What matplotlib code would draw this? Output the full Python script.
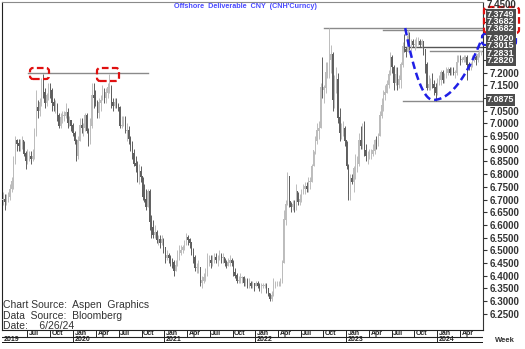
import pandas as pd
import matplotlib
matplotlib.use("Agg")
import matplotlib.pyplot as plt
import matplotlib.dates as mdates
from matplotlib.patches import FancyBboxPatch
from matplotlib.transforms import IdentityTransform

plt.rcParams['font.family'] = ['Liberation Sans', 'DejaVu Sans']

# weekly bars, one list per calendar block (Mondays, 7 days apart)
start_2019 = "2019-03-25"
close_2019 = [6.70,
              6.69, 6.70, 6.71, 6.74, 6.77,
              6.85, 6.93, 6.92, 6.91,
              6.92, 6.93, 6.88, 6.85,
              6.87, 6.87, 6.86, 6.87, 6.96,
              7.06, 7.05, 7.08, 7.15,
              7.12, 7.08, 7.11, 7.14, 7.13,
              7.08, 7.07, 7.07, 7.03,
              6.99, 7.02, 7.03, 7.03,
              7.04, 7.00, 7.01, 6.99, 6.96]
high_2019 = [6.73,
             6.72, 6.72, 6.73, 6.76, 6.79,
             6.87, 6.95, 6.94, 6.94,
             6.94, 6.95, 6.93, 6.89,
             6.90, 6.89, 6.89, 6.90, 6.98,
             7.13, 7.09, 7.10, 7.18,
             7.196, 7.14, 7.12, 7.16, 7.16,
             7.14, 7.10, 7.09, 7.08,
             7.04, 7.04, 7.05, 7.05,
             7.08, 7.06, 7.03, 7.01, 7.00]
low_2019 = [6.68,
            6.66, 6.68, 6.69, 6.70, 6.73,
            6.74, 6.84, 6.89, 6.89,
            6.89, 6.90, 6.87, 6.82,
            6.84, 6.85, 6.84, 6.85, 6.86,
            6.95, 7.02, 7.03, 7.07,
            7.10, 7.06, 7.07, 7.09, 7.10,
            7.05, 7.05, 7.04, 7.01,
            6.98, 6.98, 7.00, 7.01,
            7.02, 6.98, 6.99, 6.97, 6.95]

start_2020 = "2020-01-06"
close_2020 = [6.93, 6.87, 6.93, 6.99,
              6.98, 6.98, 7.03, 6.97,
              6.93, 6.99, 7.11, 7.10, 7.08,
              7.04, 7.08, 7.09, 7.11,
              7.10, 7.12, 7.14, 7.14,
              7.08, 7.07, 7.08, 7.07, 7.06,
              6.99, 6.99, 7.01, 6.97,
              6.97, 6.94, 6.91, 6.88, 6.84,
              6.83, 6.77, 6.81, 6.79,
              6.71, 6.70, 6.67, 6.73,
              6.61, 6.59, 6.56, 6.57, 6.54,
              6.54, 6.53, 6.54, 6.51]
high_2020 = [6.97, 6.94, 6.95, 7.02,
             7.02, 7.00, 7.04, 7.04,
             6.98, 7.02, 7.16, 7.16, 7.13,
             7.09, 7.10, 7.11, 7.15,
             7.14, 7.14, 7.16, 7.196,
             7.15, 7.10, 7.10, 7.10, 7.08,
             7.07, 7.03, 7.03, 7.03,
             7.00, 6.99, 6.95, 6.93, 6.90,
             6.87, 6.85, 6.84, 6.83,
             6.79, 6.76, 6.74, 6.74,
             6.74, 6.64, 6.62, 6.60, 6.58,
             6.56, 6.56, 6.56, 6.55]
low_2020 = [6.92, 6.85, 6.86, 6.93,
            6.96, 6.95, 6.97, 6.96,
            6.91, 6.92, 6.98, 7.06, 7.07,
            7.02, 7.02, 7.05, 7.09,
            7.08, 7.08, 7.10, 7.12,
            7.06, 7.05, 7.06, 7.06, 7.05,
            6.98, 6.98, 6.99, 6.96,
            6.93, 6.92, 6.89, 6.86, 6.83,
            6.81, 6.77, 6.76, 6.77,
            6.70, 6.69, 6.66, 6.67,
            6.58, 6.55, 6.55, 6.55, 6.53,
            6.52, 6.51, 6.52, 6.49]

start_2021 = "2021-01-04"
close_2021 = [6.47, 6.48, 6.47, 6.46,
              6.45, 6.42, 6.44, 6.48,
              6.49, 6.50, 6.51, 6.52, 6.55,
              6.54, 6.53, 6.49, 6.47,
              6.43, 6.43, 6.43, 6.37, 6.38,
              6.39, 6.40, 6.46, 6.46,
              6.45, 6.46, 6.47, 6.46,
              6.46, 6.48, 6.47, 6.47, 6.45,
              6.44, 6.45, 6.46, 6.45,
              6.41, 6.40, 6.38, 6.38,
              6.39, 6.39, 6.37, 6.38, 6.37,
              6.37, 6.36, 6.37, 6.36]
high_2021 = [6.49, 6.50, 6.49, 6.48,
             6.47, 6.46, 6.46, 6.50,
             6.52, 6.52, 6.52, 6.54, 6.57,
             6.56, 6.55, 6.53, 6.51,
             6.48, 6.45, 6.46, 6.43, 6.40,
             6.41, 6.43, 6.49, 6.48,
             6.48, 6.48, 6.49, 6.49,
             6.48, 6.50, 6.49, 6.49, 6.47,
             6.46, 6.47, 6.48, 6.47,
             6.46, 6.43, 6.41, 6.40,
             6.41, 6.40, 6.40, 6.39, 6.39,
             6.39, 6.38, 6.38, 6.37]
low_2021 = [6.45, 6.46, 6.45, 6.44,
            6.43, 6.40, 6.42, 6.44,
            6.46, 6.48, 6.49, 6.50, 6.52,
            6.52, 6.51, 6.48, 6.45,
            6.42, 6.41, 6.41, 6.36, 6.35,
            6.37, 6.38, 6.40, 6.44,
            6.43, 6.44, 6.45, 6.45,
            6.44, 6.46, 6.45, 6.45, 6.44,
            6.43, 6.44, 6.44, 6.44,
            6.40, 6.39, 6.37, 6.37,
            6.37, 6.37, 6.36, 6.36, 6.35,
            6.35, 6.35, 6.35, 6.34]

start_2022 = "2022-01-03"
close_2022 = [6.37, 6.36, 6.35, 6.36, 6.36,
              6.36, 6.35, 6.33, 6.31,
              6.32, 6.36, 6.37, 6.37,
              6.37, 6.38, 6.45, 6.62,
              6.68, 6.79, 6.69, 6.67, 6.68,
              6.66, 6.73, 6.69, 6.70,
              6.72, 6.74, 6.75, 6.74,
              6.77, 6.77, 6.83, 6.89, 6.93,
              6.97, 6.98, 7.14, 7.13,
              7.14, 7.20, 7.21, 7.25, 7.27,
              7.09, 7.13, 7.17, 7.02,
              6.96, 6.96, 6.98, 6.93]
high_2022 = [6.38, 6.38, 6.37, 6.37, 6.37,
             6.37, 6.37, 6.35, 6.33,
             6.34, 6.39, 6.38, 6.38,
             6.38, 6.39, 6.46, 6.66,
             6.70, 6.81, 6.79, 6.69, 6.70,
             6.70, 6.76, 6.72, 6.72,
             6.74, 6.76, 6.77, 6.77,
             6.79, 6.79, 6.84, 6.89, 6.95,
             7.00, 7.01, 7.16, 7.26,
             7.15, 7.24, 7.24, 7.3749, 7.31,
             7.28, 7.19, 7.22, 7.20,
             7.06, 7.00, 7.01, 6.99]
low_2022 = [6.36, 6.35, 6.34, 6.33, 6.35,
            6.35, 6.33, 6.32, 6.30,
            6.30, 6.32, 6.35, 6.36,
            6.36, 6.36, 6.37, 6.45,
            6.60, 6.69, 6.67, 6.65, 6.66,
            6.65, 6.66, 6.68, 6.68,
            6.69, 6.72, 6.72, 6.73,
            6.73, 6.74, 6.77, 6.83, 6.88,
            6.92, 6.94, 6.98, 7.10,
            7.08, 7.12, 7.18, 7.18, 7.20,
            7.05, 7.06, 7.12, 7.00,
            6.93, 6.94, 6.95, 6.91]

start_2023 = "2023-01-02"
close_2023 = [6.83, 6.72, 6.78, 6.77, 6.82,
              6.82, 6.84, 6.93, 6.91,
              6.99, 6.89, 6.87, 6.87,
              6.88, 6.88, 6.89, 6.93,
              6.92, 6.95, 7.03, 7.07, 7.11,
              7.12, 7.15, 7.19, 7.26,
              7.22, 7.16, 7.19, 7.15, 7.17,
              7.23, 7.30, 7.29, 7.28,
              7.34, 7.30, 7.32, 7.31,
              7.31, 7.32, 7.32, 7.31, 7.32,
              7.29, 7.23, 7.14, 7.15,
              7.16, 7.15, 7.14, 7.12]
high_2023 = [6.92, 6.84, 6.80, 6.80, 6.83,
             6.88, 6.87, 6.96, 6.99,
             7.00, 7.01, 6.92, 6.89,
             6.90, 6.90, 6.92, 6.94,
             6.95, 6.96, 7.05, 7.10, 7.13,
             7.15, 7.17, 7.21, 7.28,
             7.27, 7.23, 7.22, 7.22, 7.19,
             7.24, 7.32, 7.35, 7.30,
             7.3682, 7.36, 7.33, 7.33,
             7.33, 7.34, 7.34, 7.33, 7.33,
             7.32, 7.29, 7.24, 7.19,
             7.18, 7.20, 7.17, 7.16]
low_2023 = [6.82, 6.70, 6.70, 6.76, 6.73,
            6.78, 6.81, 6.83, 6.90,
            6.90, 6.87, 6.85, 6.84,
            6.86, 6.86, 6.87, 6.88,
            6.90, 6.91, 6.95, 7.02, 7.05,
            7.09, 7.13, 7.14, 7.19,
            7.20, 7.13, 7.15, 7.13, 7.14,
            7.14, 7.22, 7.28, 7.26,
            7.28, 7.29, 7.29, 7.30,
            7.29, 7.30, 7.31, 7.30, 7.30,
            7.27, 7.20, 7.13, 7.13,
            7.13, 7.14, 7.11, 7.0875]

start_2024 = "2024-01-01"
close_2024 = [7.16, 7.17, 7.20, 7.17, 7.19,
              7.20, 7.21, 7.20, 7.21,
              7.20, 7.20, 7.24, 7.26,
              7.25, 7.25, 7.26, 7.26, 7.23,
              7.22, 7.23, 7.26, 7.26,
              7.25, 7.27, 7.28, 7.282]
high_2024 = [7.18, 7.19, 7.21, 7.21, 7.20,
             7.22, 7.22, 7.22, 7.22,
             7.22, 7.21, 7.27, 7.27,
             7.27, 7.26, 7.27, 7.27, 7.27,
             7.24, 7.24, 7.27, 7.27,
             7.27, 7.28, 7.29, 7.2831]
low_2024 = [7.11, 7.15, 7.15, 7.16, 7.16,
            7.18, 7.19, 7.19, 7.19,
            7.19, 7.18, 7.19, 7.24,
            7.23, 7.24, 7.24, 7.24, 7.17,
            7.21, 7.21, 7.22, 7.24,
            7.23, 7.24, 7.26, 7.27]

# horizontal reference levels: (value, start date, end date, colour)
levels = [(7.1964, "2019-07-04", "2020-10-27", "#8a8a8a"),
          (7.3749, "2022-10-03", None, "#8a8a8a"),
          (7.3682, "2023-05-26", None, "#8a8a8a"),
          (7.3020, "2023-08-17", None, "#555555"),
          (7.2831, "2023-12-02", None, "#8a8a8a"),
          (7.0875, "2023-08-17", None, "#8a8a8a")]

# labels stacked on the price scale: groups of (texts, pixel row of centre)
tag_groups = [(["7.3749", "7.3682", "7.3682"], 21.5),
              (["7.3020", "7.3015", "7.2831", "7.2820"], 49.5),
              (["7.0875"], 100)]
hidden_ticks = ["7.4500", "7.4000", "7.3500", "7.3000", "7.2500", "7.1000"]

month_names = {1: "Jan", 4: "Apr", 7: "Jul", 10: "Oct"}

blocks = [(start_2019, close_2019, high_2019, low_2019),
          (start_2020, close_2020, high_2020, low_2020),
          (start_2021, close_2021, high_2021, low_2021),
          (start_2022, close_2022, high_2022, low_2022),
          (start_2023, close_2023, high_2023, low_2023),
          (start_2024, close_2024, high_2024, low_2024)]

dates, close, high, low = [], [], [], []
for start, c, h, l in blocks:
    dates += list(pd.date_range(start, periods=len(c), freq="7D"))
    close += c
    high += h
    low += l
x = mdates.date2num(dates)
opens = [close[0]] + close[:-1]

W, H = 525, 349
fig = plt.figure(figsize=(W / 100, H / 100), dpi=100)


def fx(px):
    return px / W


def fy(py):
    return 1 - py / H


ax = fig.add_axes([fx(2), fy(330), fx(483) - fx(2), fy(2) - fy(330)])
x0 = mdates.date2num(pd.Timestamp("2019-03-21"))
x1 = mdates.date2num(pd.Timestamp("2024-07-02"))
ax.set_xlim(x0, x1)
ax.set_ylim(6.1862, 7.4776)

# candles
for xi, o, c, h, l in zip(x, opens, close, high, low):
    col = "#bcbcbc" if c >= o else "#5e5e5e"
    ax.vlines(xi, min(l, o, c), max(h, o, c), color=col, lw=0.7, zorder=2)
    ax.bar(xi, abs(c - o) + 0.003, bottom=min(o, c), width=4.5, color=col,
           lw=0, zorder=3)

for val, s, e, col in levels:
    xs = mdates.date2num(pd.Timestamp(s))
    xe = x1 if e is None else mdates.date2num(pd.Timestamp(e))
    ax.plot([xs, xe], [val, val], color=col, lw=1.0, zorder=1)

# cup curve
tl = mdates.date2num(pd.Timestamp("2023-08-25"))
tv = mdates.date2num(pd.Timestamp("2023-12-15"))
tr = mdates.date2num(pd.Timestamp("2024-06-21"))
n = 40
cx, cy = [], []
for i in range(n + 1):
    t = tl + (tv - tl) * i / n
    cx.append(t)
    cy.append(7.092 + (7.375 - 7.092) * ((tv - t) / (tv - tl)) ** 2)
for i in range(1, n + 1):
    t = tv + (tr - tv) * i / n
    cx.append(t)
    cy.append(7.092 + (7.318 - 7.092) * ((t - tv) / (tr - tv)) ** 2)
ax.plot(cx, cy, color="#1f1fe6", lw=1.8, ls=(0, (3, 1.6)), zorder=5)

# axis styling
ax.set_xticks([])
ax.yaxis.tick_right()
ticks = [6.25 + 0.05 * i for i in range(25)]
ax.set_yticks(ticks)
ax.set_yticklabels(["" if "%.4f" % t in hidden_ticks else "%.4f" % t
                    for t in ticks])
ax.tick_params(axis="y", length=3, width=0.8, pad=2, labelsize=7,
               labelcolor="#333333", color="#333333")
for lab in ax.get_yticklabels():
    lab.set_fontweight("bold")
ax.spines["top"].set_color("#8a8a8a")
ax.spines["left"].set_color("#222222")
ax.spines["right"].set_linestyle((0, (1, 1)))
ax.spines["right"].set_color("#333333")
ax.spines["bottom"].set_color("#222222")

# top label sits a bit higher than its tick
fig.text(fx(487), fy(4.5), "7.4500", fontsize=7, fontweight="bold",
         color="#333333", va="center", ha="left")

ax.text(0.002, 0.075, "Chart Source:  Aspen  Graphics", transform=ax.transAxes,
        fontsize=7.5, color="#333333", va="center")
ax.text(0.002, 0.043, "Data  Source:  Bloomberg", transform=ax.transAxes,
        fontsize=7.5, color="#333333", va="center")
ax.text(0.002, 0.012, "Date:    6/26/24", transform=ax.transAxes,
        fontsize=7.5, color="#333333", va="center")

fig.text(fx(245), fy(6), "Offshore  Deliverable  CNY  (CNH'Curncy)",
         color="#4a4aff", fontsize=5.2, fontweight="bold", ha="center", va="center")

# date axis
dax = fig.add_axes([fx(2), fy(343), fx(483) - fx(2), fy(330) - fy(343)])
dax.set_xlim(x0, x1)
dax.set_ylim(0, 2)
dax.axis("off")
dax.axhline(1, color="#222222", lw=0.8)
dax.axhline(0, color="#111111", lw=1.4)
for yr in range(2019, 2025):
    for m in (1, 4, 7, 10):
        d = mdates.date2num(pd.Timestamp(yr, m, 1))
        if d < x0 + 30 or d > x1 - 30:
            continue
        dax.plot([d, d], [1, 2], color="#222222", lw=0.7)
        dax.text(d + 6, 1.5, month_names[m], fontsize=5, fontweight="bold",
                 va="center", ha="left", color="#222222")
    d = mdates.date2num(pd.Timestamp(yr, 1, 1))
    if d > x0:
        dax.plot([d, d], [0, 1], color="#222222", lw=0.7)
    dax.text(max(d, x0) + 6, 0.5, str(yr), fontsize=5, fontweight="bold",
             va="center", ha="left", color="#222222")

fig.text(fx(505), fy(340), "Week", fontsize=5.5, fontweight="bold",
         ha="center", va="center", color="#333333")

# stacked price tags
for texts, row in tag_groups:
    fig.text(fx(487), fy(row), "\n".join(texts), fontsize=6.5,
             fontweight="bold", color="white", va="center", ha="left",
             linespacing=0.74,
             bbox=dict(boxstyle="square,pad=0.12", fc="#4d4d4d", ec="none"))

# dashed highlight boxes (pixel rectangles)
boxes = [(30, 68, 49, 79, "#e01010"), (97, 68, 119, 81, "#e01010"),
         (484, 7, 519, 33, "#e01010"), (482, 34, 516, 45, "#1f1fe6")]
for bx0, by0, bx1, by1, col in boxes:
    p = FancyBboxPatch((bx0, H - by1), bx1 - bx0, by1 - by0,
                       boxstyle="round,pad=0,rounding_size=3",
                       fill=False, ec=col, lw=1.6, ls=(0, (3, 1.5)),
                       transform=IdentityTransform())
    fig.add_artist(p)

fig.savefig("out.png", dpi=100)
